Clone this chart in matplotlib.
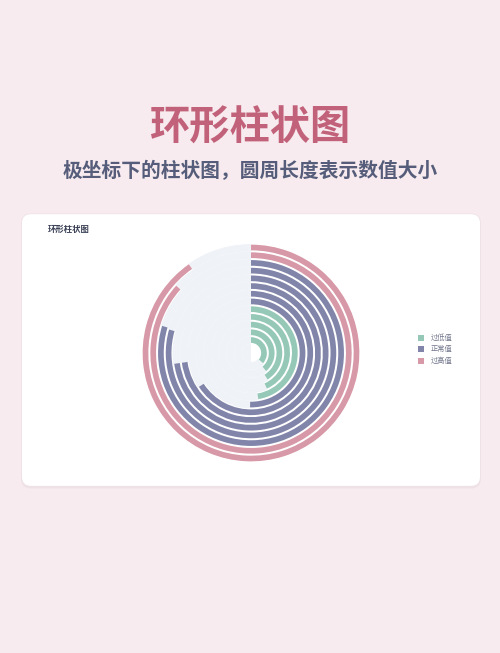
import matplotlib.pyplot as plt
import numpy as np
from matplotlib.patches import FancyBboxPatch

plt.rcParams['font.family'] = ['Noto Sans CJK SC', 'DejaVu Sans']

# données : une valeur (en degrés) par anneau, de l'intérieur vers l'extérieur
values = [130, 140, 148, 156, 171, 181, 237, 262, 262, 286, 287, 312, 325]
groups = [0, 0, 0, 0, 0, 1, 1, 1, 1, 1, 1, 2, 2]
series = ['过低值', '正常值', '过高值']
colors = ['#95c8b7', '#8285aa', '#d799a7']

bg = '#f7ebef'
pale = '#eff3f7'

fig = plt.figure(figsize=(5, 6.53), dpi=100)
fig.patch.set_facecolor(bg)

# titres
fig.text(0.5, 0.804, '环形柱状图', ha='center', va='center', fontsize=29,
         fontweight='bold', color='#c2627a')
fig.text(0.5, 0.738, '极坐标下的柱状图，圆周长度表示数值大小', ha='center', va='center',
         fontsize=14.2, fontweight='bold', color='#565d7a')

# carte blanche avec ombre
asp = 500 / 653
shadow = FancyBboxPatch((0.042, 0.252), 0.920, 0.421,
                        boxstyle='round,pad=0,rounding_size=0.02',
                        mutation_aspect=asp, transform=fig.transFigure,
                        facecolor='#eee2e6', edgecolor='none', zorder=0)
card = FancyBboxPatch((0.044, 0.256), 0.916, 0.416,
                      boxstyle='round,pad=0,rounding_size=0.018',
                      mutation_aspect=asp, transform=fig.transFigure,
                      facecolor='white', edgecolor='none', zorder=1)
fig.add_artist(shadow)
fig.add_artist(card)
fig.text(0.096, 0.648, '环形柱状图', ha='left', va='center', fontsize=6,
         fontweight='bold', color='#3a4055', zorder=2)

# graphique polaire
ax = fig.add_axes([0.284, 0.2925, 0.436, 0.3338], projection='polar', zorder=3)
ax.set_theta_zero_location('N')
ax.set_theta_direction(-1)

base = 1.686
n = len(values)
r = base + np.arange(n)
theta = np.deg2rad(values)

# fond pâle là où les barres s'arrêtent
ax.barh(r, 2 * np.pi - theta, left=theta, height=1.0, color=pale, zorder=1)
ax.barh(base / 2 - 0.25, np.pi, left=np.pi, height=base - 0.5, color=pale, zorder=1)

bar_colors = [colors[g] for g in groups]
ax.barh(r, theta, left=0, height=0.74, color=bar_colors, zorder=2)

ax.set_ylim(0, base + 12.45)
ax.set_xlim(0, 2 * np.pi)
ax.axis('off')

# légende
leg_y = [0.4824, 0.4648, 0.4472]
for name, c, y in zip(series, colors, leg_y):
    fig.patches.append(plt.Rectangle((0.836, y - 0.0046), 0.012, 0.012 * asp,
                                     transform=fig.transFigure, facecolor=c,
                                     edgecolor='none', zorder=4))
    fig.text(0.862, y, name, ha='left', va='center', fontsize=5.2,
             color='#70748a', zorder=4)

fig.savefig('out.png', dpi=100, facecolor=fig.get_facecolor())
